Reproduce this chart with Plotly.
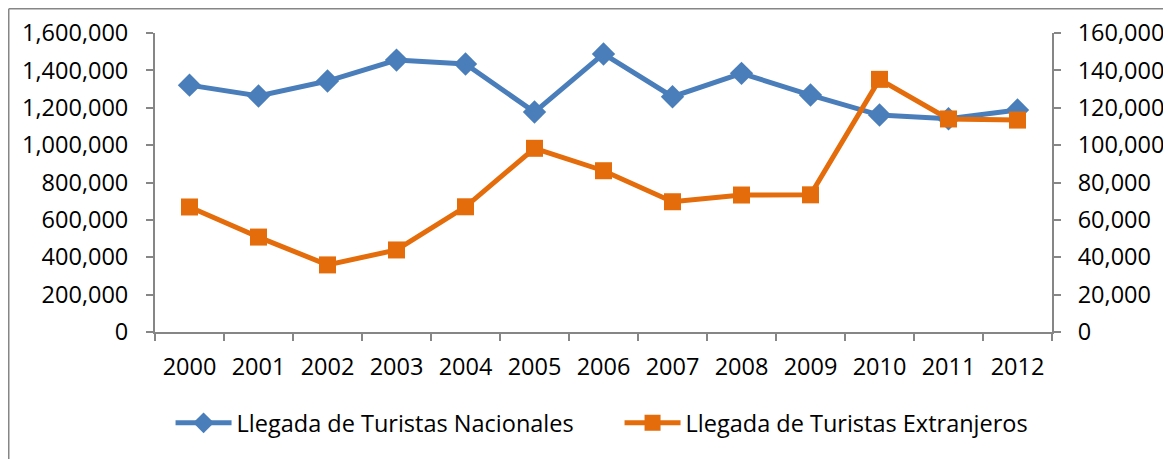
import plotly.graph_objects as go

years = ["2000", "2001", "2002", "2003", "2004", "2005", "2006",
         "2007", "2008", "2009", "2010", "2011", "2012"]
nacionales = [1321000, 1263000, 1343000, 1455000, 1434000, 1177000, 1488000,
              1259000, 1384000, 1268000, 1161000, 1141000, 1188000]
extranjeros = [66900, 50800, 35900, 43900, 67000, 98300, 86300,
               69700, 73300, 73400, 135200, 114000, 113400]

FONT = "Open Sans"
BLUE = "#4A7EBB"
ORANGE = "#E46C0A"
AXIS = "#868686"
FS = 23.5

fig = go.Figure()
fig.add_trace(go.Scatter(
    x=years, y=nacionales, name="Llegada de Turistas Nacionales",
    mode="lines+markers",
    line=dict(color=BLUE, width=5),
    marker=dict(symbol="diamond", size=18, color=BLUE),
    yaxis="y"))
fig.add_trace(go.Scatter(
    x=years, y=extranjeros, name="Llegada de Turistas Extranjeros",
    mode="lines+markers",
    line=dict(color=ORANGE, width=5),
    marker=dict(symbol="square", size=17, color=ORANGE),
    yaxis="y2"))

# page body has an 8px margin: figure origin sits at (8, 8) on screen
OFF = 8
W, H = 1171 - OFF, 459 - OFF
L, R, T, B = 155 - OFF, 1052 - OFF, 33 - OFF, 332 - OFF
pw, ph = R - L, B - T

fig.update_layout(
    width=W, height=H,
    margin=dict(l=L, r=W - R, t=T, b=H - B, pad=0, autoexpand=False),
    paper_bgcolor="white", plot_bgcolor="white",
    font=dict(family=FONT, size=FS, color="black"),
    showlegend=True,
    legend=dict(orientation="h", x=-0.0005, xanchor="left",
                y=(B - (423 - OFF)) / ph, yanchor="middle",
                font=dict(family=FONT, size=FS, color="black"),
                itemwidth=56, indentation=16,
                entrywidth=362, entrywidthmode="pixels",
                bgcolor="rgba(0,0,0,0)"),
    xaxis=dict(type="category", showgrid=False, showline=True,
               linecolor=AXIS, linewidth=2, ticks="outside",
               tickson="boundaries", ticklen=7, tickcolor=AXIS, tickwidth=2,
               ticklabelstandoff=13, range=[-0.5, 12.5], zeroline=False,
               automargin=False),
    yaxis=dict(range=[0, 1600000], dtick=200000, tickformat=",d",
               showgrid=False, showline=True, linecolor=AXIS, linewidth=2,
               ticks="outside", ticklen=7, tickcolor=AXIS, tickwidth=2,
               ticklabelstandoff=13, zeroline=False, automargin=False),
    yaxis2=dict(range=[0, 160000], dtick=20000, tickformat=",d",
                overlaying="y", side="right", showgrid=False,
                showline=True, linecolor=AXIS, linewidth=2,
                ticks="outside", ticklen=7, tickcolor=AXIS, tickwidth=2,
                ticklabelstandoff=12, zeroline=False, automargin=False),
)

# chart border (Excel chart area frame) along the figure's left and top edges
bx = (0.75 - L) / pw
by = (B - 0.75) / ph
fig.add_shape(type="line", xref="paper", yref="paper",
              x0=bx, x1=bx, y0=(B - H - 5) / ph, y1=by,
              line=dict(color=AXIS, width=1.5))
fig.add_shape(type="line", xref="paper", yref="paper",
              x0=bx, x1=(W + 5 - L) / pw, y0=by, y1=by,
              line=dict(color=AXIS, width=1.5))

fig.write_html("out.html")
